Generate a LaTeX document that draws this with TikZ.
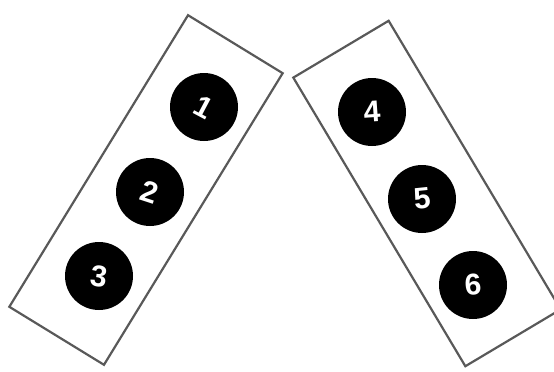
\documentclass[tikz,border=0pt]{standalone}
\usepackage{fontspec}
\setsansfont{Liberation Sans}
\usepackage{tikz}

\begin{document}
\begin{tikzpicture}[x=1pt, y=-1pt,
  bank/.style={draw=black!65, line width=2.2pt, minimum width=#1, minimum height=111pt, inner sep=0pt},
  cyl/.style={circle, fill=black, text=white, minimum size=68pt, inner sep=0pt,
    font=\sffamily\bfseries\fontsize{30}{30}\selectfont}]
\useasboundingbox (0,0) rectangle (554,372);
\node[bank=342pt, rotate=58.5] (left) at (146,190) {};
\node[bank=336pt, rotate=-59.2] (right) at (427,193.5) {};
\foreach \n/\x/\y/\r in {1/204/107/-28, 2/150/192/-18, 3/99/276/-8,
                         4/372/112/4, 5/422/199/6, 6/473/285/4} {
  \node[cyl] (c\n) at (\x,\y) {\rotatebox{\r}{\n}};
}
\end{tikzpicture}
\end{document}
